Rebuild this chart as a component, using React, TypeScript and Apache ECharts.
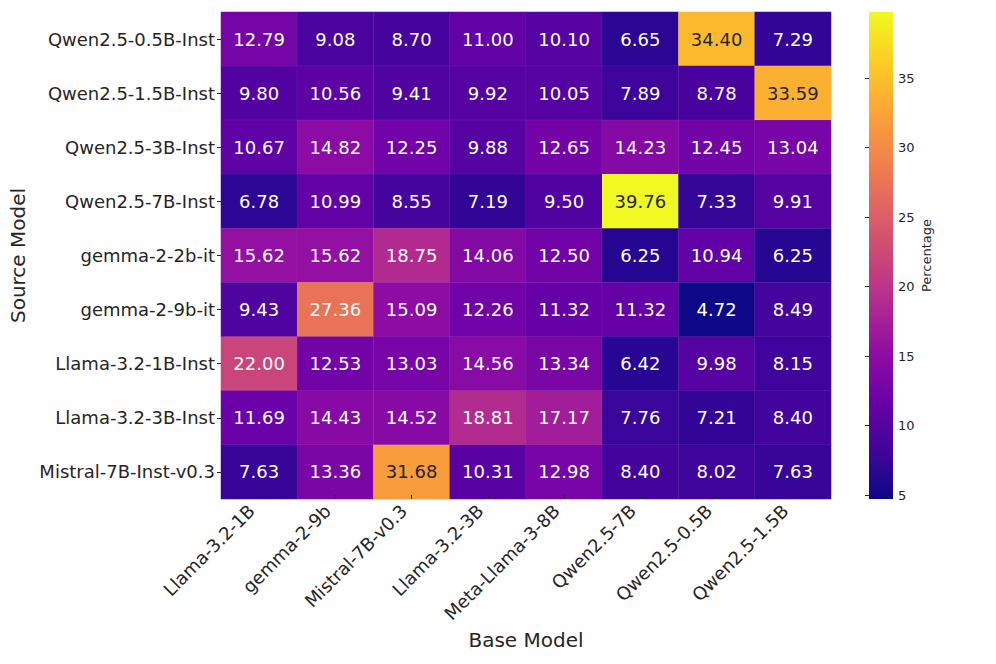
import React, { useEffect, useRef } from "react";
import * as echarts from "echarts";

const sourceModels = [
  "Qwen2.5-0.5B-Inst",
  "Qwen2.5-1.5B-Inst",
  "Qwen2.5-3B-Inst",
  "Qwen2.5-7B-Inst",
  "gemma-2-2b-it",
  "gemma-2-9b-it",
  "Llama-3.2-1B-Inst",
  "Llama-3.2-3B-Inst",
  "Mistral-7B-Inst-v0.3",
];

const baseModels = [
  "Llama-3.2-1B",
  "gemma-2-9b",
  "Mistral-7B-v0.3",
  "Llama-3.2-3B",
  "Meta-Llama-3-8B",
  "Qwen2.5-7B",
  "Qwen2.5-0.5B",
  "Qwen2.5-1.5B",
];

const rowQwen05 = [12.79, 9.08, 8.7, 11.0, 10.1, 6.65, 34.4, 7.29];
const rowQwen15 = [9.8, 10.56, 9.41, 9.92, 10.05, 7.89, 8.78, 33.59];
const rowQwen3 = [10.67, 14.82, 12.25, 9.88, 12.65, 14.23, 12.45, 13.04];
const rowQwen7 = [6.78, 10.99, 8.55, 7.19, 9.5, 39.76, 7.33, 9.91];
const rowGemma2 = [15.62, 15.62, 18.75, 14.06, 12.5, 6.25, 10.94, 6.25];
const rowGemma9 = [9.43, 27.36, 15.09, 12.26, 11.32, 11.32, 4.72, 8.49];
const rowLlama1 = [22.0, 12.53, 13.03, 14.56, 13.34, 6.42, 9.98, 8.15];
const rowLlama3 = [11.69, 14.43, 14.52, 18.81, 17.17, 7.76, 7.21, 8.4];
const rowMistral = [7.63, 13.36, 31.68, 10.31, 12.98, 8.4, 8.02, 7.63];

const rows = [
  rowQwen05,
  rowQwen15,
  rowQwen3,
  rowQwen7,
  rowGemma2,
  rowGemma9,
  rowLlama1,
  rowLlama3,
  rowMistral,
];

const colorbarTicks = [5, 10, 15, 20, 25, 30, 35];

const plasma = [
  "#0d0887",
  "#41049d",
  "#6a00a8",
  "#8f0da4",
  "#b12a90",
  "#cc4778",
  "#e16462",
  "#f2844b",
  "#fca636",
  "#fcce25",
  "#f0f921",
];

function hexToRgb(h: string) {
  return [
    parseInt(h.slice(1, 3), 16),
    parseInt(h.slice(3, 5), 16),
    parseInt(h.slice(5, 7), 16),
  ];
}

function plasmaAt(t: number) {
  const x = Math.max(0, Math.min(1, t)) * (plasma.length - 1);
  const i = Math.min(plasma.length - 2, Math.floor(x));
  const f = x - i;
  const a = hexToRgb(plasma[i]);
  const b = hexToRgb(plasma[i + 1]);
  return a.map((v, k) => v + (b[k] - v) * f);
}

function luminance(rgb: number[]) {
  const lin = rgb.map((c) => {
    const s = c / 255;
    return s <= 0.03928 ? s / 12.92 : Math.pow((s + 0.055) / 1.055, 2.4);
  });
  return 0.2126 * lin[0] + 0.7152 * lin[1] + 0.0722 * lin[2];
}

export default function App() {
  const ref = useRef<HTMLDivElement>(null);

  useEffect(() => {
    document.body.style.margin = "0";
    if (!ref.current) return;
    const chart = echarts.init(ref.current, undefined, { renderer: "svg" });

    const all = rows.flat();
    const vmin = Math.min(...all);
    const vmax = Math.max(...all);

    const data: any[] = [];
    rows.forEach((row, r) => {
      row.forEach((v, c) => {
        const rgb = plasmaAt((v - vmin) / (vmax - vmin));
        const dark = luminance(rgb) > 0.408;
        data.push({
          value: [c, r, v],
          label: { color: dark ? "#262626" : "#ffffff" },
        });
      });
    });

    const font = "DejaVu Sans";
    const cb = { left: 869, top: 12, width: 24, height: 487 };

    chart.setOption({
      animation: false,
      backgroundColor: "#ffffff",
      textStyle: { fontFamily: font },
      grid: [
        { left: 221, top: 12, width: 610, height: 487 },
        { left: cb.left, top: cb.top, width: cb.width, height: cb.height },
      ],
      graphic: [
        {
          type: "rect",
          z: 0,
          shape: { x: cb.left, y: cb.top, width: cb.width, height: cb.height },
          style: {
            fill: new echarts.graphic.LinearGradient(
              0,
              1,
              0,
              0,
              plasma.map((c, i) => ({ offset: i / (plasma.length - 1), color: c }))
            ),
          },
        },
      ],
      xAxis: [
        {
          type: "category",
          gridIndex: 0,
          data: baseModels,
          position: "bottom",
          z: 10,
          axisLine: { show: false },
          axisTick: {
            show: true,
            alignWithLabel: true,
            inside: true,
            length: 4,
            lineStyle: { color: "#262626", width: 1 },
          },
          axisLabel: {
            rotate: 45,
            fontSize: 18,
            color: "#262626",
            fontFamily: font,
            margin: 1,
            padding: [0, 11, 0, 0],
            interval: 0,
          },
          splitLine: { show: false },
          name: "Base Model",
          nameLocation: "middle",
          nameGap: 131,
          nameTextStyle: { fontSize: 20, color: "#262626", fontFamily: font },
        },
        {
          type: "value",
          gridIndex: 1,
          show: false,
        },
      ],
      yAxis: [
        {
          type: "category",
          gridIndex: 0,
          data: sourceModels,
          inverse: true,
          axisLine: { show: false },
          axisTick: {
            show: true,
            alignWithLabel: true,
            length: 4,
            lineStyle: { color: "#262626", width: 1 },
          },
          axisLabel: {
            fontSize: 18,
            color: "#262626",
            fontFamily: font,
            margin: 6,
            interval: 0,
          },
          splitLine: { show: false },
          name: "Source Model",
          nameLocation: "middle",
          nameGap: 186,
          nameTextStyle: { fontSize: 20, color: "#262626", fontFamily: font },
        },
        {
          type: "value",
          gridIndex: 1,
          position: "right",
          z: 10,
          min: vmin,
          max: vmax,
          axisLine: { show: false },
          splitLine: { show: false },
          axisTick: {
            show: true,
            inside: true,
            length: 4,
            customValues: colorbarTicks,
            lineStyle: { color: "#262626", width: 1 },
          },
          axisLabel: {
            customValues: colorbarTicks,
            fontSize: 13,
            color: "#262626",
            fontFamily: font,
            margin: 5,
          },
          name: "Percentage",
          nameLocation: "middle",
          nameGap: 27,
          nameRotate: 90,
          nameTextStyle: { fontSize: 13, color: "#262626", fontFamily: font },
        },
      ],
      visualMap: {
        type: "continuous",
        min: vmin,
        max: vmax,
        show: false,
        seriesIndex: 0,
        inRange: { color: plasma },
      },
      series: [
        {
          type: "heatmap",
          xAxisIndex: 0,
          yAxisIndex: 0,
          data,
          label: {
            show: true,
            fontSize: 18,
            fontFamily: font,
            formatter: (p: any) => p.value[2].toFixed(2),
          },
          itemStyle: {
            borderWidth: 0.5,
            borderColor: "rgba(255,255,255,0.12)",
          },
          emphasis: { disabled: true },
        },
      ],
    });

    return () => chart.dispose();
  }, []);

  return <div ref={ref} style={{ width: 996, height: 664 }} />;
}
